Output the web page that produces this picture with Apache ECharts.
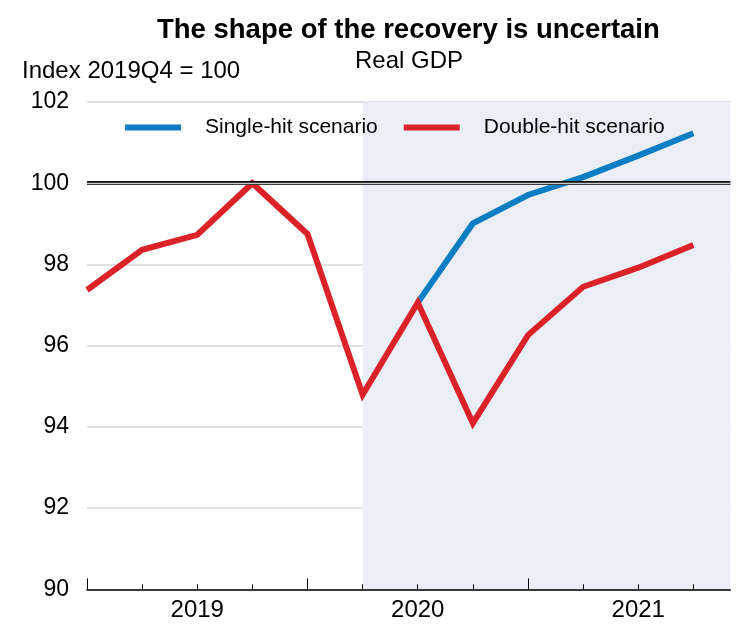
<!DOCTYPE html>
<html>
<head>
<meta charset="utf-8">
<script src="https://cdn.jsdelivr.net/npm/echarts@6/dist/echarts.min.js"></script>
<style>
html,body{margin:0;padding:0;background:#fff;}
#chart{width:753px;height:627px;}
</style>
</head>
<body>
<div id="chart"></div>
<script>
// ---- data ----
const quarters = ['2019Q1','2019Q2','2019Q3','2019Q4','2020Q1','2020Q2','2020Q3','2020Q4','2021Q1','2021Q2','2021Q3','2021Q4'];
const doubleHit = [97.37, 98.36, 98.73, 100.0, 98.75, 94.79, 97.06, 94.09, 96.26, 97.45, 97.92, 98.48];
const singleHit = [null, null, null, null, null, null, 97.06, 99.01, 99.71, 100.15, 100.68, 101.23];
const seriesNames = ['Single-hit scenario', 'Double-hit scenario'];
const yMin = 90, yMax = 102, yStep = 2;
const baseValue = 100;
const projectionStart = '2020Q2';
const titleText = 'The shape of the recovery is uncertain';
const subtitleText = 'Real GDP';
const unitText = 'Index 2019Q4 = 100';

// ---- derived ----
const xMax = 11.67; // axis extends a bit past the last quarter
const FONT = "'Liberation Sans', Arial, sans-serif";
const idx = quarters.map((q, i) => i);
const yearStarts = idx.filter(i => quarters[i].endsWith('Q1'));
const yearLabelPos = yearStarts.map(i => i + 2);
const yearOf = {};
yearStarts.forEach(i => { yearOf[i + 2] = quarters[i].slice(0, 4); });
const toPairs = arr => arr.map((v, i) => [i, v]);

const chart = echarts.init(document.getElementById('chart'), null, {renderer: 'canvas'});
chart.setOption({
  animation: false,
  backgroundColor: '#fff',
  textStyle: {fontFamily: FONT},
  title: [
    {text: titleText, left: 157, top: 16, padding: 0,
     textStyle: {fontFamily: FONT, fontSize: 27.5, fontWeight: 'bold', color: '#000'}},
    {text: subtitleText, left: 355, top: 49, padding: 0,
     textStyle: {fontFamily: FONT, fontSize: 24, fontWeight: 'normal', color: '#000'}},
    {text: unitText, left: 22, top: 59, padding: 0,
     textStyle: {fontFamily: FONT, fontSize: 24, fontWeight: 'normal', color: '#000'}}
  ],
  legend: {
    data: seriesNames,
    left: 125, top: 117, padding: 0,
    icon: 'rect', itemWidth: 56, itemHeight: 6, itemGap: 26,
    textStyle: {fontFamily: FONT, fontSize: 21, color: '#000', padding: [0, 0, 0, 19]}
  },
  grid: {left: 87, right: 22.7, top: 102, bottom: 37.7, containLabel: false},
  xAxis: [
    {
      type: 'value', min: 0, max: xMax, position: 'bottom', z: 10,
      axisLine: {show: true, lineStyle: {color: '#000', width: 1.5}},
      axisTick: {show: true, inside: true, length: 5, customValues: idx, lineStyle: {color: '#000', width: 1}},
      axisLabel: {show: true, customValues: yearLabelPos, formatter: v => yearOf[Math.round(v)] || '',
                  fontFamily: FONT, fontSize: 24, color: '#000', margin: 9},
      splitLine: {show: false}
    },
    {
      type: 'value', min: 0, max: xMax, position: 'bottom', z: 10,
      axisLine: {show: false},
      axisTick: {show: true, inside: true, length: 11, customValues: yearStarts, lineStyle: {color: '#000', width: 1}},
      axisLabel: {show: false},
      splitLine: {show: false}
    }
  ],
  yAxis: {
    type: 'value', min: yMin, max: yMax, interval: yStep,
    axisLine: {show: false},
    axisTick: {show: false},
    axisLabel: {fontFamily: FONT, fontSize: 23, color: '#000', margin: 18},
    splitLine: {show: true, lineStyle: {color: '#d6d6d6', width: 1.5}}
  },
  series: [
    {
      name: 'projection', type: 'line', z: -2, data: [], silent: true,
      markArea: {
        silent: true,
        itemStyle: {color: '#ebeef6'},
        data: [[{xAxis: quarters.indexOf(projectionStart)}, {xAxis: xMax}]]
      }
    },
    {
      name: 'base', type: 'line', z: -1, data: [], silent: true,
      markLine: {
        silent: true, symbol: 'none', label: {show: false},
        data: [
          {yAxis: baseValue, lineStyle: {color: '#111', width: 4, type: 'solid'}},
          {yAxis: baseValue, lineStyle: {color: '#c8c8c8', width: 1.3, type: 'solid'}}
        ]
      }
    },
    {
      name: seriesNames[0], type: 'line', data: toPairs(singleHit), showSymbol: false, symbol: 'none',
      color: '#0b7dc3', lineStyle: {color: '#0b7dc3', width: 6, join: 'miter', cap: 'butt'}, z: 3
    },
    {
      name: seriesNames[1], type: 'line', data: toPairs(doubleHit), showSymbol: false, symbol: 'none',
      color: '#dc2229', lineStyle: {color: '#dc2229', width: 6, join: 'miter', cap: 'butt'}, z: 4
    }
  ]
});
</script>
</body>
</html>
